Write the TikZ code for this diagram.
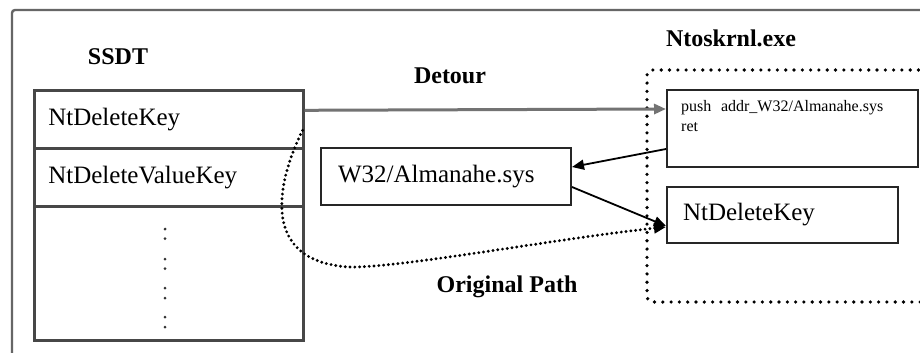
\documentclass[tikz,border=0pt]{standalone}
\usepackage{fontspec}
\setmainfont{Liberation Serif}
\usetikzlibrary{arrows.meta}
\begin{document}
\begin{tikzpicture}[x=1pt,y=-1pt,
  frameline/.style={draw=black!60,line width=2.4pt},
  tablecell/.style={draw=black!72,line width=2.6pt,rectangle,anchor=north west,
    minimum width=269pt,text width=241pt,inner xsep=14pt,align=left,
    font=\fontsize{25}{30}\selectfont},
  codebox/.style={draw=black!85,line width=2pt,rectangle,anchor=north west,align=left},
  heading/.style={font=\fontsize{24}{28}\selectfont\bfseries},
  tip/.style={-{Triangle[length=12pt,width=10pt]}},
  calllink/.style={tip,draw=black,line width=1.8pt},
  detourlink/.style={tip,draw=black!55,line width=3pt},
  origlink/.style={tip,draw=black,line width=3.2pt,line cap=round,dash pattern=on 0pt off 4.8pt},
  moduleframe/.style={draw=black,line width=3.6pt,line cap=round,dash pattern=on 0pt off 8.3pt,rounded corners=5pt}
]
\useasboundingbox (0,0) rectangle (920,353);
\clip (0,0) rectangle (920,353);
\fill[white] (0,0) rectangle (920,353);

% outer frame, running off the right and bottom edges
\draw[frameline,rounded corners=3pt] (12,380) -- (12,10) -- (960,10);

% SSDT table
\node[heading] (ssdtlbl) at (118,57) {SSDT};
\node[tablecell,minimum height=58pt] (r1) at (33,89) {NtDeleteKey};
\node[tablecell,minimum height=58pt] (r2) at (33,147) {NtDeleteValueKey};
\node[tablecell,minimum height=134pt] (r3) at (33,205) {};
\foreach \yy in {229,238.5,259,268.5,288,298,317,327}
  \fill[black!80] (165,\yy) circle (1.5pt);

% rootkit driver
\node[codebox,minimum width=250pt,minimum height=57pt,text width=216pt,inner xsep=17pt,
  font=\fontsize{25}{30}\selectfont] (w32) at (320,147) {W32/Almanahe.sys};

% kernel image
\node[heading] (ntoslbl) at (731,38) {Ntoskrnl.exe};
\draw[moduleframe] (960,70) -- (647,70) -- (647,302) -- (960,302);

\node[codebox,minimum width=251pt,minimum height=77pt] (push) at (666,89) {};
\node[anchor=north west,align=left,inner sep=0pt,font=\fontsize{16}{20}\selectfont] (pushtxt)
  at (681,100) {push\hspace{0.35em} addr\_W32/Almanahe.sys\\ret};
\node[codebox,minimum width=231pt,minimum height=56pt,text width=199pt,inner xsep=16pt,
  font=\fontsize{25}{30}\selectfont] (ntdk) at (666,186) {NtDeleteKey};

% connectors
\draw[detourlink] ([yshift=9pt]r1.east) -- ([yshift=-20pt]push.north west);
\node[heading] (detourlbl) at (450,76) {Detour};
\draw[calllink] ([yshift=-20.5pt]push.west) -- ([yshift=9.5pt]w32.east);
\draw[calllink] ([yshift=-10.5pt]w32.east) -- ([yshift=-11pt]ntdk.west);
\draw[origlink] ([xshift=-2pt,yshift=-11pt]r1.east)
  .. controls (280,175) and (255,262) .. (350,267)
  .. controls (400,268) and (560,238) .. ([yshift=-12pt]ntdk.west);
\node[heading] (origlbl) at (507,287) {Original Path};
\end{tikzpicture}
\end{document}
